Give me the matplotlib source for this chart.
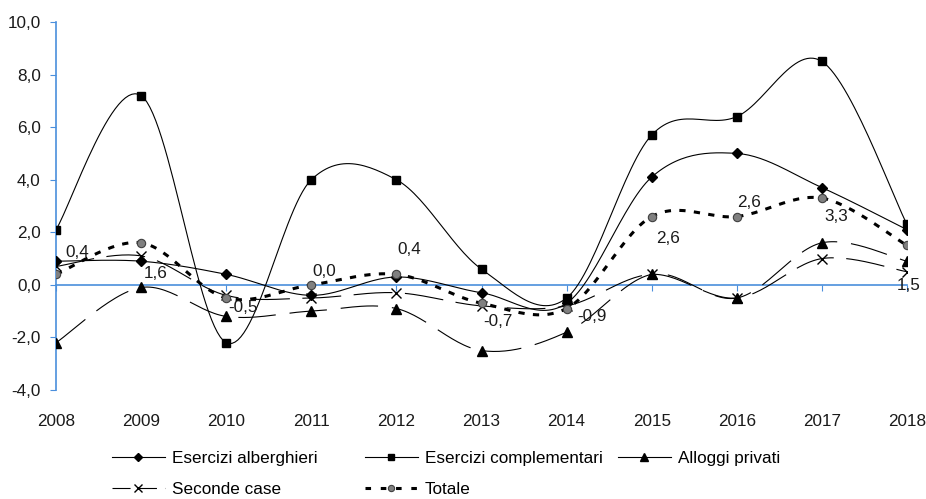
import numpy as np
import matplotlib
matplotlib.use("Agg")
import matplotlib.pyplot as plt
from matplotlib.lines import Line2D

plt.rcParams['font.family'] = ['Liberation Sans', 'DejaVu Sans']
plt.rcParams['lines.scale_dashes'] = False

# Dati (variazioni %, anni 2008-2018)
anni = [2008, 2009, 2010, 2011, 2012, 2013, 2014, 2015, 2016, 2017, 2018]
alberghieri = [0.9, 0.9, 0.4, -0.4, 0.3, -0.3, -0.7, 4.1, 5.0, 3.7, 2.1]
complementari = [2.1, 7.2, -2.2, 4.0, 4.0, 0.6, -0.5, 5.7, 6.4, 8.5, 2.3]
alloggi = [-2.2, -0.1, -1.2, -1.0, -0.9, -2.5, -1.8, 0.4, -0.5, 1.6, 0.9]
seconde = [0.7, 1.1, -0.4, -0.5, -0.3, -0.8, -0.8, 0.4, -0.5, 1.0, 0.5]
totale = [0.4, 1.6, -0.5, 0.0, 0.4, -0.7, -0.9, 2.6, 2.6, 3.3, 1.5]

# spostamento delle etichette (pixel) rispetto al punto
label_off = [(21, 22), (15, -31), (17, -9), (13, 13), (13, 25), (16, -18),
             (25, -8), (16, -22), (12, 14), (14, -18), (2, -40)]

BLUE = '#4a8fdc'
FS = 12.3


def smooth(x, y, n=30):
    # curva "smussata" tipo Excel (Bezier / Catmull-Rom)
    x = np.asarray(x, float)
    y = np.asarray(y, float)
    px = np.concatenate([[x[0]], x, [x[-1]]])
    py = np.concatenate([[y[0]], y, [y[-1]]])
    xs, ys = [], []
    t = np.linspace(0, 1, n)
    for i in range(1, len(px) - 2):
        p0 = np.array([px[i], py[i]])
        p3 = np.array([px[i + 1], py[i + 1]])
        p1 = p0 + (p3 - np.array([px[i - 1], py[i - 1]])) / 6
        p2 = p3 - (np.array([px[i + 2], py[i + 2]]) - p0) / 6
        b = ((1 - t) ** 3)[:, None] * p0 + (3 * (1 - t) ** 2 * t)[:, None] * p1 \
            + (3 * (1 - t) * t ** 2)[:, None] * p2 + (t ** 3)[:, None] * p3
        xs.extend(b[:, 0])
        ys.extend(b[:, 1])
    return np.array(xs), np.array(ys)


fig = plt.figure(figsize=(9.26, 4.99), dpi=100)
ax = fig.add_axes([56 / 926, 1 - 390 / 499, (907 - 56) / 926, (390 - 22) / 499])

# nome, valori, stile linea, stile linea in legenda, marker
serie = [
    ("Esercizi alberghieri", alberghieri, dict(ls='-', lw=0.8), dict(ls='-', lw=0.8),
     dict(marker='D', ms=5.5, mfc='k', mec='k')),
    ("Esercizi complementari", complementari, dict(ls='-', lw=0.8), dict(ls='-', lw=0.8),
     dict(marker='s', ms=6, mfc='k', mec='k')),
    ("Alloggi privati", alloggi, dict(ls=(0, (27, 10)), lw=0.8), dict(ls='-', lw=0.8),
     dict(marker='^', ms=7, mfc='k', mec='k')),
    ("Seconde case", seconde, dict(ls=(0, (28, 9)), lw=0.8), dict(ls=(0, (13, 6)), lw=0.8),
     dict(marker='x', ms=7.5, mec='k', mew=1.0)),
    ("Totale", totale, dict(ls=(0, (4.5, 6)), lw=2.2), dict(ls=(0, (4, 7)), lw=2.2),
     dict(marker='o', ms=6, mfc='#808080', mec='#404040', mew=0.8)),
]

handles = {}
for z, (nome, vals, lstyle, legstyle, mstyle) in enumerate(serie):
    sx, sy = smooth(anni, vals)
    ax.plot(sx, sy, color='k', zorder=3 + z, **lstyle)
    ax.plot(anni, vals, ls='none', zorder=3 + z, **mstyle)
    handles[nome] = Line2D([], [], color='k', **legstyle, **mstyle)

# etichette della serie Totale
for a, v, (dx, dy) in zip(anni, totale, label_off):
    ax.annotate(f"{v:.1f}".replace('.', ','), (a, v), xytext=(dx, dy),
                textcoords='offset pixels', ha='center', va='center',
                fontsize=FS, color='#1a1a1a', zorder=10)

ax.set_xlim(2008, 2018)
ax.set_ylim(-4, 10)
ax.set_yticks(np.arange(-4, 10.1, 2))
ax.set_yticklabels([f"{v:.1f}".replace('.', ',') for v in np.arange(-4, 10.1, 2)])

for s in ['top', 'right']:
    ax.spines[s].set_visible(False)
ax.spines['left'].set_color(BLUE)
ax.spines['left'].set_linewidth(1.2)
ax.spines['bottom'].set_position(('data', 0))
ax.spines['bottom'].set_color(BLUE)
ax.spines['bottom'].set_linewidth(1.2)
ax.spines['bottom'].set_zorder(2)
ax.set_xticks(anni)
ax.tick_params(axis='x', direction='out', length=4, color=BLUE, labelbottom=False)
ax.tick_params(axis='y', direction='out', length=4, color=BLUE, pad=7,
               labelsize=FS, labelcolor='#1a1a1a')

sec = ax.secondary_xaxis(0)
sec.set_xticks(anni)
sec.set_xticklabels([str(a) for a in anni])
sec.spines['bottom'].set_visible(False)
sec.tick_params(length=0, pad=17, labelsize=FS, labelcolor='#1a1a1a')

# legenda: tre colonne come nell'originale
colonne = [(112, ["Esercizi alberghieri", "Seconde case"]),
           (365, ["Esercizi complementari", "Totale"]),
           (618, ["Alloggi privati"])]
for xpix, nomi in colonne:
    leg = fig.legend([handles[n] for n in nomi], nomi, loc='upper left',
                     bbox_to_anchor=(xpix / 926, 1 - 451 / 499), frameon=False,
                     fontsize=FS, handlelength=3.1, handletextpad=0.4,
                     labelspacing=0.95, borderpad=0, borderaxespad=0,
                     markerscale=0.75)

fig.savefig("out.png", dpi=100)
